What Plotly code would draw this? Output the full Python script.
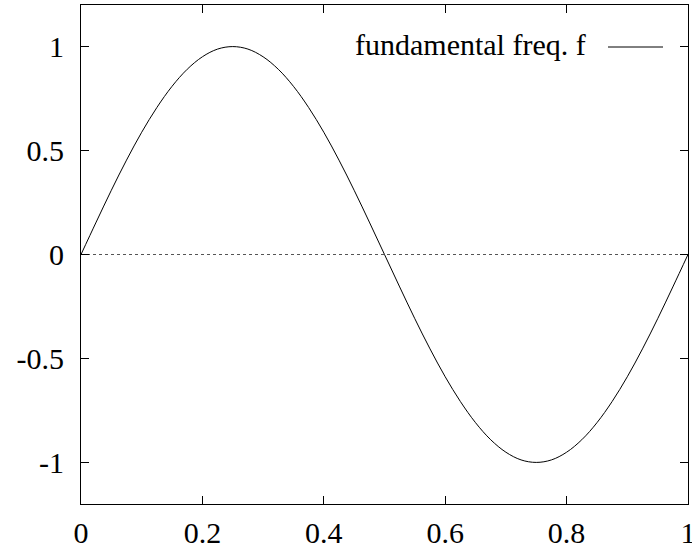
import plotly.graph_objects as go

x_vals = [i * 0.025 for i in range(41)]
y_vals = [0.0, 0.156, 0.309, 0.454, 0.588, 0.707, 0.809, 0.891, 0.951, 0.988, 1.0,
          0.988, 0.951, 0.891, 0.809, 0.707, 0.588, 0.454, 0.309, 0.156, 0.0,
          -0.156, -0.309, -0.454, -0.588, -0.707, -0.809, -0.891, -0.951, -0.988, -1.0,
          -0.988, -0.951, -0.891, -0.809, -0.707, -0.588, -0.454, -0.309, -0.156, 0.0]
x_ticks = [0, 0.2, 0.4, 0.6, 0.8, 1]
x_tick_text = ["0", "0.2", "0.4", "0.6", "0.8", "1"]
y_ticks = [-1, -0.5, 0, 0.5, 1]
y_tick_text = ["-1", "-0.5", "0", "0.5", "1"]
legend_label = "fundamental freq. f"

FONT = "Liberation Serif, Times New Roman, serif"

fig = go.Figure()
fig.add_trace(go.Scatter(x=[0, 1], y=[0, 0], mode="lines",
                         line=dict(color="#555555", width=1, dash="dot"),
                         showlegend=False, hoverinfo="skip"))
fig.add_trace(go.Scatter(x=x_vals, y=y_vals, mode="lines", line_shape="spline",
                         line=dict(color="black", width=1), showlegend=False))

axis_common = dict(showline=True, linecolor="black", linewidth=1, mirror="allticks",
                   ticks="inside", ticklen=8, tickcolor="black", tickwidth=1,
                   showgrid=False, zeroline=False, automargin=False,
                   tickfont=dict(family=FONT, size=30, color="black"))
fig.update_xaxes(range=[0, 1], tickvals=x_ticks, ticktext=x_tick_text,
                 ticklabelstandoff=2, ticklabeloverflow="allow", **axis_common)
fig.update_yaxes(range=[-1.2, 1.2], tickvals=y_ticks, ticktext=y_tick_text,
                 ticklabelstandoff=10, **axis_common)

fig.add_annotation(xref="paper", yref="paper", x=(588 - 81) / 607, y=(504 - 45) / 499,
                   xanchor="right", yanchor="middle", text=legend_label, showarrow=False,
                   font=dict(family=FONT, size=30, color="black"))
fig.add_shape(type="line", xref="paper", yref="paper",
              x0=(608 - 81) / 607, x1=(663 - 81) / 607,
              y0=(504 - 47) / 499, y1=(504 - 47) / 499,
              line=dict(color="black", width=1))

fig.update_layout(width=692, height=554, margin=dict(l=81, r=4, t=5, b=50),
                  plot_bgcolor="white", paper_bgcolor="white",
                  font=dict(family=FONT))
fig.write_html("out.html")
